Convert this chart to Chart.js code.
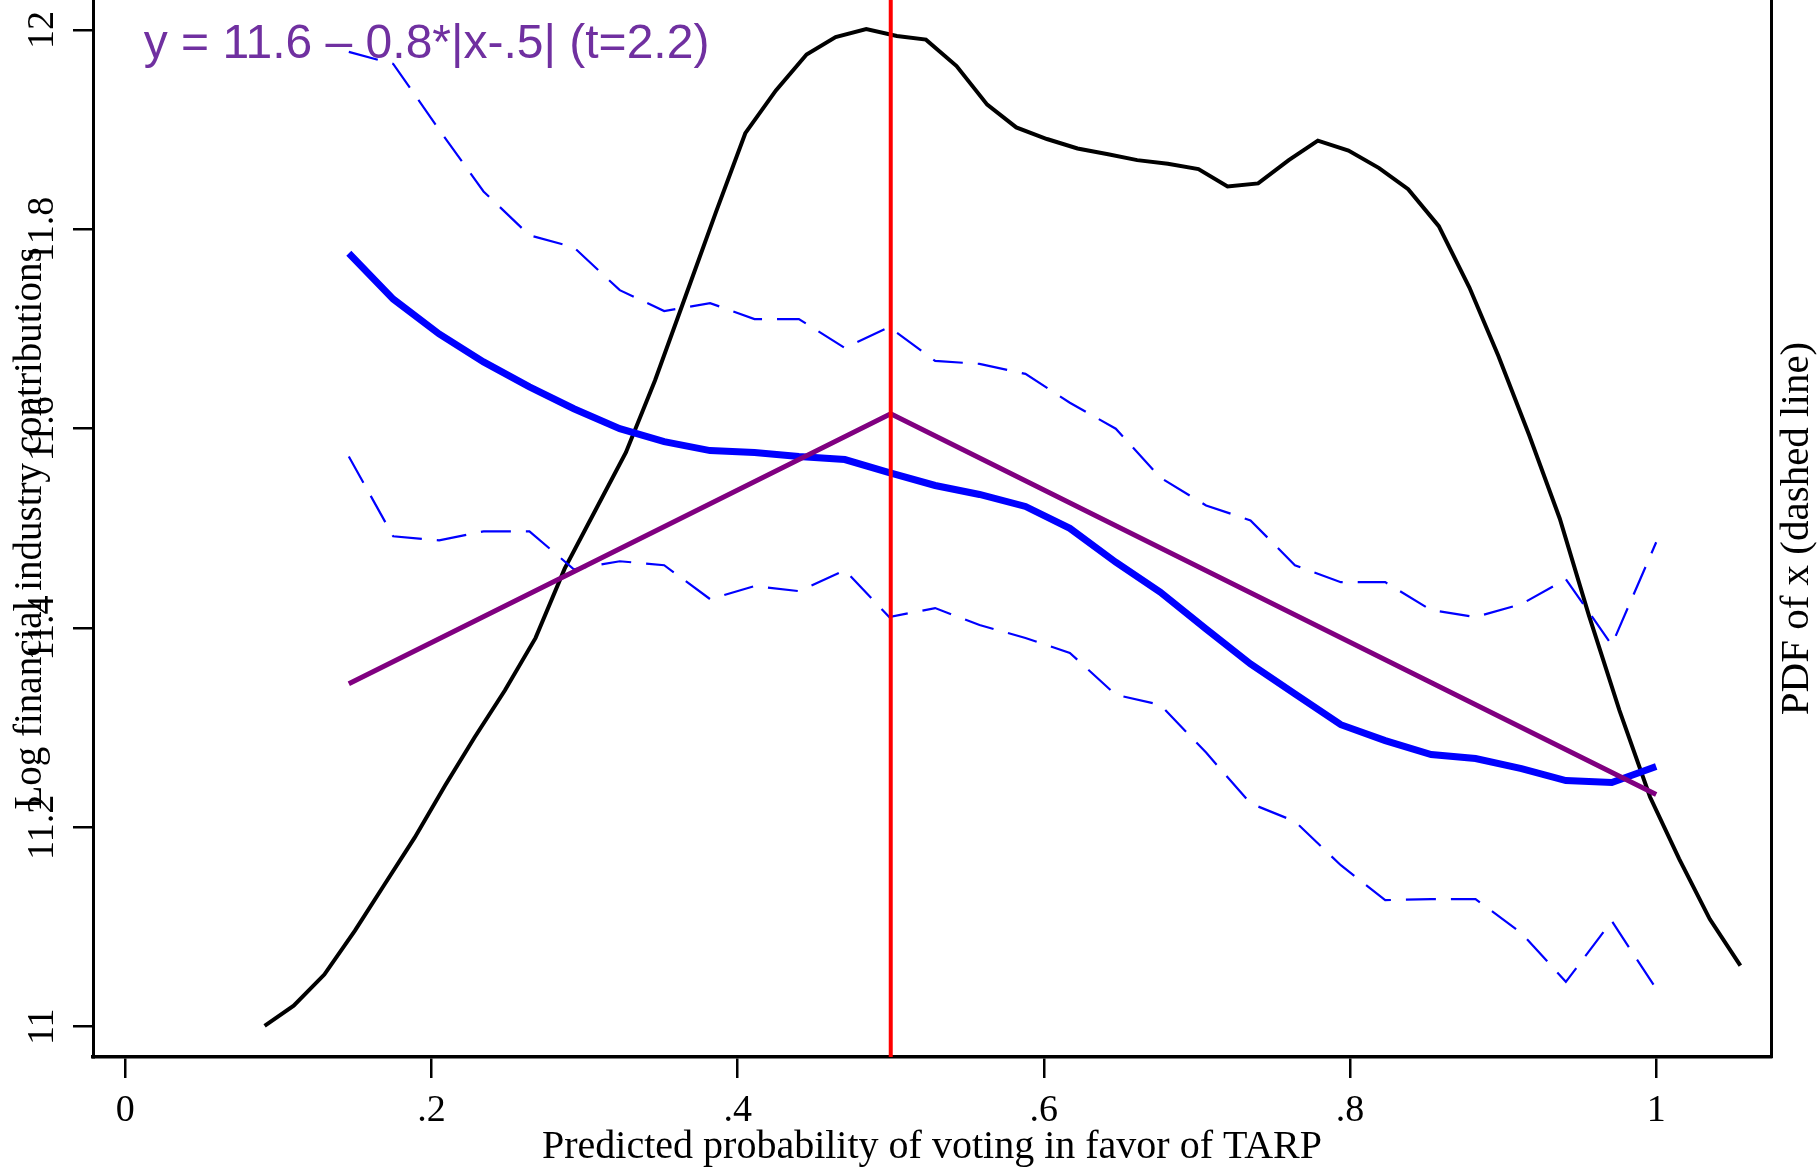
<!DOCTYPE html>
<html>
<head>
<meta charset="utf-8">
<title>TARP vote probability and financial contributions</title>
<script src="https://cdn.jsdelivr.net/npm/chart.js@4.4.1/dist/chart.umd.min.js"></script>
<style>
  html, body { margin: 0; padding: 0; background: #fff; }
  canvas { display: block; }
</style>
</head>
<body>
<canvas id="tarpChart" width="1819" height="1167"></canvas>
<script>
// local mean of log contributions and its band, on a grid of predicted probabilities
const gridX = [0.146, 0.175, 0.205, 0.234, 0.264, 0.293, 0.323, 0.352, 0.382, 0.411,
               0.440, 0.470, 0.499, 0.529, 0.558, 0.588, 0.617, 0.647, 0.676, 0.706,
               0.735, 0.764, 0.794, 0.823, 0.853, 0.882, 0.912, 0.941, 0.971, 1.000];
const meanY = [11.776, 11.730, 11.695, 11.667, 11.642, 11.620, 11.600, 11.587, 11.578, 11.576,
               11.572, 11.569, 11.556, 11.543, 11.534, 11.522, 11.500, 11.466, 11.436, 11.399,
               11.364, 11.334, 11.303, 11.287, 11.273, 11.269, 11.259, 11.247, 11.245, 11.261];
const upperY = [11.978, 11.966, 11.900, 11.838, 11.794, 11.782, 11.739, 11.718, 11.726, 11.710,
                11.710, 11.681, 11.702, 11.668, 11.665, 11.655, 11.626, 11.600, 11.551, 11.523,
                11.508, 11.463, 11.446, 11.446, 11.418, 11.411, 11.424, 11.449, 11.383, 11.486];
const lowerY = [11.572, 11.492, 11.488, 11.497, 11.497, 11.459, 11.467, 11.463, 11.429, 11.442,
                11.437, 11.458, 11.411, 11.420, 11.403, 11.390, 11.375, 11.333, 11.323, 11.275,
                11.224, 11.206, 11.162, 11.127, 11.128, 11.128, 11.094, 11.045, 11.106, 11.038];

// tent fit y = a - b*|x - .5|
const fitX = [0.146, 0.5, 1.0];
const fitY = [11.344, 11.615, 11.233];
const fitLabel = 'y = 11.6 \u2013 0.8*|x-.5| (t=2.2)';

// density of the predicted probability (right axis)
const densX = [0.091, 0.110, 0.130, 0.150, 0.169, 0.189, 0.209, 0.228, 0.248, 0.268,
               0.287, 0.307, 0.327, 0.346, 0.366, 0.386, 0.405, 0.425, 0.445, 0.464,
               0.484, 0.504, 0.523, 0.543, 0.563, 0.582, 0.602, 0.622, 0.642, 0.661,
               0.681, 0.701, 0.720, 0.740, 0.760, 0.779, 0.799, 0.819, 0.838, 0.858,
               0.878, 0.897, 0.917, 0.937, 0.956, 0.976, 0.996, 1.015, 1.035, 1.055];
const densY = [0.059, 0.097, 0.156, 0.239, 0.325, 0.415, 0.514, 0.604, 0.694, 0.793,
               0.924, 1.034, 1.144, 1.280, 1.440, 1.600, 1.748, 1.829, 1.897, 1.930,
               1.945, 1.932, 1.925, 1.875, 1.802, 1.759, 1.737, 1.719, 1.708, 1.697,
               1.690, 1.680, 1.647, 1.653, 1.697, 1.734, 1.715, 1.682, 1.642, 1.572,
               1.456, 1.326, 1.177, 1.019, 0.836, 0.656, 0.492, 0.375, 0.261, 0.173];

const cutoff = 0.5;

const xTicks = [0, 0.2, 0.4, 0.6, 0.8, 1];
const xTickLabels = ['0', '.2', '.4', '.6', '.8', '1'];
const yTicks = [11, 11.2, 11.4, 11.6, 11.8, 12];
const yTickLabels = ['11', '11.2', '11.4', '11.6', '11.8', '12'];

const X_MIN = -0.0211, X_MAX = 1.075;
const Y_MIN = 10.9696, Y_MAX = 12.0301;

const SERIF = '"Liberation Serif", "Times New Roman", serif';

const pts = (xs, ys) => xs.map((x, i) => ({ x: x, y: ys[i] }));

// rotated y tick labels, right-hand title and the fit annotation
const axisText = {
    id: 'axisText',
    afterDraw(chart) {
        const { ctx, scales: { x, y } } = chart;
        ctx.save();
        ctx.fillStyle = '#000';
        ctx.font = '38px ' + SERIF;
        ctx.textAlign = 'center';
        ctx.textBaseline = 'alphabetic';
        y.ticks.forEach(t => {
            ctx.save();
            ctx.translate(53, y.getPixelForValue(t.value));
            ctx.rotate(-Math.PI / 2);
            ctx.fillText(yTickLabels[yTicks.indexOf(t.value)], 0, 0);
            ctx.restore();
        });

        ctx.save();
        ctx.font = '41px ' + SERIF;
        ctx.translate(1808, (chart.chartArea.top + chart.chartArea.bottom) / 2);
        ctx.rotate(-Math.PI / 2);
        ctx.fillText('PDF of x (dashed line)', 0, 0);
        ctx.restore();

        ctx.font = '48px "Liberation Sans", Arial, sans-serif';
        ctx.fillStyle = '#7030a0';
        ctx.textAlign = 'left';
        ctx.fillText(fitLabel, x.getPixelForValue(0.012), y.getPixelForValue(11.972));
        ctx.restore();
    }
};

const ctx = document.getElementById('tarpChart').getContext('2d');
new Chart(ctx, {
    type: 'line',
    data: {
        datasets: [
            {
                label: 'cutoff',
                data: [{ x: cutoff, y: Y_MIN }, { x: cutoff, y: Y_MAX }],
                borderColor: '#ff0000',
                borderWidth: 4,
                yAxisID: 'y'
            },
            {
                label: 'fit',
                data: pts(fitX, fitY),
                borderColor: '#800080',
                borderWidth: 5,
                yAxisID: 'y'
            },
            {
                label: 'mean',
                data: pts(gridX, meanY),
                borderColor: '#0000ff',
                borderWidth: 7,
                yAxisID: 'y'
            },
            {
                label: 'upper',
                data: pts(gridX, upperY),
                borderColor: '#0000ff',
                borderWidth: 2.2,
                borderDash: [30, 15],
                yAxisID: 'y'
            },
            {
                label: 'lower',
                data: pts(gridX, lowerY),
                borderColor: '#0000ff',
                borderWidth: 2.2,
                borderDash: [30, 15],
                yAxisID: 'y'
            },
            {
                label: 'density',
                data: pts(densX, densY),
                borderColor: '#000000',
                borderWidth: 4,
                yAxisID: 'y2'
            }
        ]
    },
    options: {
        responsive: false,
        animation: false,
        layout: { padding: 0 },
        elements: {
            point: { radius: 0, hoverRadius: 0 },
            line: { tension: 0, fill: false }
        },
        plugins: {
            legend: { display: false },
            tooltip: { enabled: false }
        },
        scales: {
            x: {
                type: 'linear',
                position: 'bottom',
                min: X_MIN,
                max: X_MAX,
                afterBuildTicks: s => { s.ticks = xTicks.map(v => ({ value: v })); },
                afterFit: s => { s.height = 110; },
                ticks: {
                    color: '#000',
                    font: { family: SERIF, size: 38 },
                    padding: 10,
                    maxRotation: 0,
                    callback: v => xTickLabels[xTicks.indexOf(v)]
                },
                grid: {
                    display: true,
                    drawOnChartArea: false,
                    drawTicks: true,
                    tickLength: 21,
                    color: '#000',
                    lineWidth: 2.5
                },
                border: { display: true, color: '#000', width: 3.5 },
                title: {
                    display: true,
                    text: 'Predicted probability of voting in favor of TARP',
                    color: '#000',
                    font: { family: SERIF, size: 40, lineHeight: 1 },
                    padding: 0
                }
            },
            y: {
                type: 'linear',
                position: 'left',
                min: Y_MIN,
                max: Y_MAX,
                afterBuildTicks: s => { s.ticks = yTicks.map(v => ({ value: v })); },
                afterFit: s => { s.width = 93; },
                ticks: { display: false },
                grid: {
                    display: true,
                    drawOnChartArea: false,
                    drawTicks: true,
                    tickLength: 20,
                    color: '#000',
                    lineWidth: 2.5
                },
                border: { display: true, color: '#000', width: 3 },
                title: {
                    display: true,
                    text: 'Log financial industry contributions',
                    color: '#000',
                    font: { family: SERIF, size: 39, lineHeight: 1 },
                    padding: { top: 11, bottom: 0 }
                }
            },
            y2: {
                type: 'linear',
                position: 'right',
                min: 0,
                max: 2,
                afterFit: s => { s.width = 48; },
                ticks: { display: false },
                grid: { display: false },
                border: { display: true, color: '#000', width: 3 }
            }
        }
    },
    plugins: [axisText]
});
</script>
</body>
</html>
